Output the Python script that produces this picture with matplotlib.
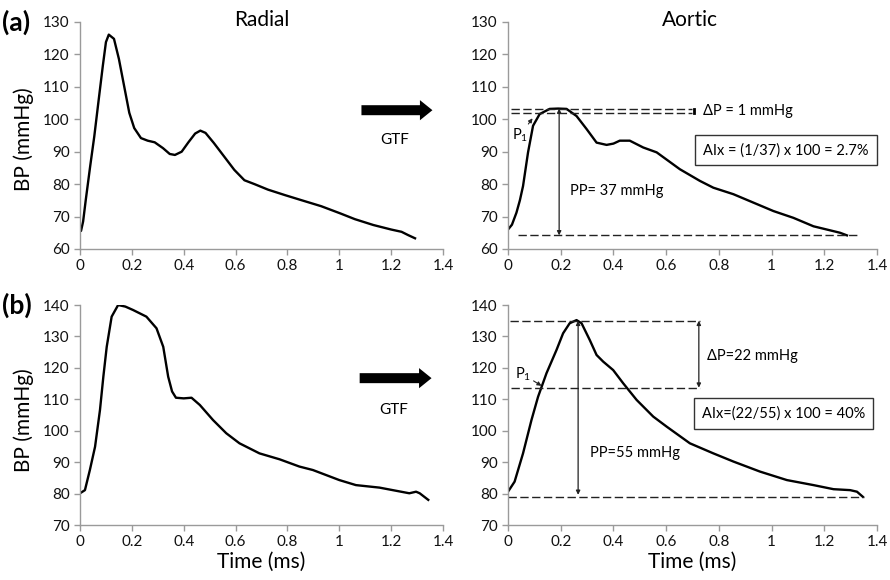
import numpy as np
import matplotlib
matplotlib.use("Agg")
from matplotlib import pyplot as plt
from matplotlib.patches import FancyArrowPatch

plt.rcParams['font.family'] = ['Lato', 'DejaVu Sans']
plt.rcParams['mathtext.fontset'] = 'custom'
plt.rcParams['mathtext.rm'] = 'Lato'
plt.rcParams['mathtext.it'] = 'Lato'

# (a) radial waveform
t_rad_a = [0, 0.004, 0.012, 0.022, 0.039, 0.055, 0.072, 0.088, 0.1, 0.111, 0.131, 0.15, 0.17, 0.19,
           0.209, 0.235, 0.261, 0.288, 0.32, 0.346, 0.366, 0.392, 0.418, 0.444, 0.464, 0.484,
           0.516, 0.556, 0.595, 0.634, 0.673, 0.725, 0.791, 0.856, 0.93, 1.003, 1.06, 1.131,
           1.2, 1.24, 1.265, 1.292]
bp_rad_a = [65.5, 65.6, 68.5, 75, 85.4, 94.7, 106, 116.5, 123.8, 126.1, 124.8, 118.6, 110.3, 102,
            97.3, 94.2, 93.4, 92.9, 91.1, 89.3, 89, 90, 92.9, 95.6, 96.5, 95.8,
            92.7, 88.5, 84.4, 81.2, 80, 78.3, 76.6, 75, 73.2, 71.0, 69.2, 67.4,
            66.0, 65.3, 64.3, 63.3]

# (a) aortic waveform
t_aor_a = [0, 0.015, 0.032, 0.045, 0.057, 0.076, 0.095, 0.12, 0.158, 0.19, 0.222, 0.26, 0.298,
           0.336, 0.374, 0.40, 0.424, 0.462, 0.513, 0.564, 0.652, 0.728, 0.779, 0.855, 0.931,
           1.007, 1.083, 1.159, 1.235, 1.26, 1.286]
bp_aor_a = [66, 67.5, 71.2, 75, 79.4, 89.8, 98, 101.6, 103.2, 103.3, 103.2, 101, 97,
            92.8, 92.1, 92.5, 93.4, 93.4, 91.3, 89.8, 84.6, 81, 78.9, 76.9, 74.3,
            71.7, 69.6, 67, 65.5, 65, 64.2]

# (b) radial waveform
t_rad_b = [0, 0.019, 0.038, 0.058, 0.077, 0.09, 0.103, 0.122, 0.147, 0.175, 0.205, 0.256, 0.295,
           0.321, 0.34, 0.355, 0.37, 0.4, 0.43, 0.462, 0.513, 0.564, 0.615, 0.692, 0.77, 0.846,
           0.898, 1.0, 1.064, 1.155, 1.206, 1.27, 1.296, 1.31, 1.343]
bp_rad_b = [80.1, 81.1, 87.5, 94.9, 106.6, 117.2, 126.7, 136.3, 140, 139.5, 138.4, 136.3, 132.6,
            126.7, 117.2, 112.5, 110.5, 110.3, 110.5, 108.2, 103.4, 99.2, 96, 92.8, 90.9, 88.6,
            87.5, 84.3, 82.7, 81.9, 81.1, 80.1, 80.6, 80.1, 78]

# (b) aortic waveform
t_aor_b = [0, 0.025, 0.057, 0.089, 0.114, 0.146, 0.184, 0.209, 0.234, 0.26, 0.279, 0.31, 0.336,
           0.361, 0.399, 0.437, 0.488, 0.551, 0.602, 0.69, 0.779, 0.855, 0.956, 1.058, 1.159,
           1.235, 1.298, 1.324, 1.346]
bp_aor_b = [80.6, 83.8, 92.8, 103.4, 110.8, 118.3, 125.7, 131, 134.2, 135.2, 134.2, 128.9, 124.1,
            122, 119.3, 115.1, 109.8, 104.5, 101.3, 96, 92.8, 90.2, 87, 84.3, 82.7,
            81.4, 81.1, 80.6, 79]

x_ticks = [0, 0.2, 0.4, 0.6, 0.8, 1.0, 1.2, 1.4]
x_labels = ['0', '0.2', '0.4', '0.6', '0.8', '1', '1.2', '1.4']
y_ticks_a = [60, 70, 80, 90, 100, 110, 120, 130]
y_ticks_b = [70, 80, 90, 100, 110, 120, 130, 140]

# annotation values
p_max_a, p_inf_a, p_min_a = 103.3, 101.8, 64.2
p_max_b, p_inf_b, p_min_b = 135.0, 113.7, 79.0

fig = plt.figure(figsize=(8.9, 5.8), dpi=100)
ax1 = fig.add_axes([0.0899, 0.5707, 0.4079, 0.3914])
ax2 = fig.add_axes([0.5708, 0.5707, 0.4146, 0.3914])
ax3 = fig.add_axes([0.0899, 0.0948, 0.4079, 0.3793])
ax4 = fig.add_axes([0.5708, 0.0948, 0.4146, 0.3793])


def style(ax, yt):
    ax.set_xlim(0, 1.4)
    ax.set_ylim(yt[0], yt[-1])
    ax.set_xticks(x_ticks)
    ax.set_xticklabels(x_labels)
    ax.set_yticks(yt)
    for s in ['top', 'right']:
        ax.spines[s].set_visible(False)
    for s in ['left', 'bottom']:
        ax.spines[s].set_color('#9a9a9a')
        ax.spines[s].set_linewidth(1.0)
    ax.tick_params(colors='#9a9a9a', labelcolor='#111111', length=4, width=1,
                   labelsize=11, direction='out')
    ax.patch.set_alpha(0)


style(ax1, y_ticks_a)
style(ax2, y_ticks_a)
style(ax3, y_ticks_b)
style(ax4, y_ticks_b)

lw = 1.7
for ax, t, bp in [(ax1, t_rad_a, bp_rad_a), (ax2, t_aor_a, bp_aor_a),
                  (ax3, t_rad_b, bp_rad_b), (ax4, t_aor_b, bp_aor_b)]:
    ax.plot(t, bp, color='black', linewidth=lw, solid_joinstyle='round')

dash = dict(color='#222222', linewidth=1.0, linestyle=(0, (6, 2.5)), clip_on=False)
arr = dict(arrowstyle='<|-|>', color='#222222', lw=0.9, mutation_scale=6,
           shrinkA=0, shrinkB=0)
fs_ann = 10.5

# panel (a) aortic annotations
ax2.plot([0.013, 0.697], [p_max_a, p_max_a], **dash)
ax2.plot([0.013, 0.697], [p_inf_a, p_inf_a], **dash)
ax2.plot([0.705, 0.705], [p_inf_a, p_max_a], color='black', linewidth=2)
ax2.text(0.74, 102.4, 'ΔP = 1 mmHg', fontsize=fs_ann, va='center')
ax2.plot([0.038, 1.33], [p_min_a, p_min_a], **dash)
ax2.annotate('', xy=(0.194, p_min_a), xytext=(0.194, p_max_a), arrowprops=arr)
ax2.text(0.234, 78, 'PP= 37 mmHg', fontsize=fs_ann, va='center')
ax2.text(1.055, 90.5, 'AIx = (1/37) x 100 = 2.7%', fontsize=fs_ann, ha='center', va='center',
         bbox=dict(boxstyle='square,pad=0.55', fc='white', ec='#333333', lw=1.0), clip_on=False)
ax2.annotate(r'P$_\mathrm{1}$', xy=(0.093, 100.3), xytext=(0.015, 95), fontsize=fs_ann,
             va='center', arrowprops=dict(arrowstyle='-|>', color='#222222', lw=0.8,
                                          mutation_scale=6, shrinkA=0, shrinkB=0))

# panel (b) aortic annotations
ax4.plot([0.006, 0.728], [p_max_b, p_max_b], **dash)
ax4.plot([0.01, 0.728], [p_inf_b, p_inf_b], **dash)
ax4.annotate('', xy=(0.724, p_inf_b), xytext=(0.724, p_max_b), arrowprops=arr)
ax4.text(0.754, 123.8, 'ΔP=22 mmHg', fontsize=fs_ann, va='center')
ax4.plot([0.0, 1.349], [p_min_b, p_min_b], **dash)
ax4.annotate('', xy=(0.266, p_min_b + 0.6), xytext=(0.266, p_max_b), arrowprops=arr)
ax4.text(0.31, 93, 'PP=55 mmHg', fontsize=fs_ann, va='center')
ax4.text(1.045, 105.5, 'AIx=(22/55) x 100 = 40%', fontsize=fs_ann, ha='center', va='center',
         bbox=dict(boxstyle='square,pad=0.55', fc='white', ec='#333333', lw=1.0), clip_on=False)
ax4.annotate(r'P$_\mathrm{1}$', xy=(0.127, 114.3), xytext=(0.025, 118), fontsize=fs_ann,
             va='center', arrowprops=dict(arrowstyle='-|>', color='#222222', lw=0.8,
                                          mutation_scale=6, shrinkA=0, shrinkB=0))

# titles, labels
fig.text(0.2944, 0.9655, 'Radial', fontsize=15, ha='center', va='center')
fig.text(0.775, 0.9655, 'Aortic', fontsize=15, ha='center', va='center')
fig.text(0.002, 0.962, '(a)', fontsize=19, fontweight='bold', ha='left', va='center')
fig.text(0.002, 0.474, '(b)', fontsize=19, fontweight='bold', ha='left', va='center')
fig.text(0.027, 0.76, 'BP (mmHg)', fontsize=15, rotation=90, ha='center', va='center')
fig.text(0.027, 0.276, 'BP (mmHg)', fontsize=15, rotation=90, ha='center', va='center')
fig.text(0.293, 0.031, 'Time (ms)', fontsize=15, ha='center', va='center')
fig.text(0.778, 0.031, 'Time (ms)', fontsize=15, ha='center', va='center')

# GTF arrows
for (x0, x1, y, ty) in [(0.403, 0.489, 0.810, 0.759), (0.401, 0.488, 0.348, 0.293)]:
    a = FancyArrowPatch((x0, y), (x1, y), transform=fig.transFigure,
                        arrowstyle='simple,head_width=1.45,head_length=0.9,tail_width=0.72',
                        mutation_scale=10, color='black', lw=0)
    fig.add_artist(a)
    fig.text((x0 + x1) / 2 - 0.002, ty, 'GTF', fontsize=11, ha='center', va='center')

plt.savefig('out.png', dpi=100)
